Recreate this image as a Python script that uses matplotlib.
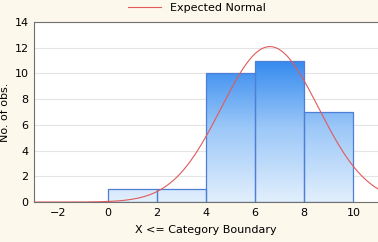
import matplotlib.pyplot as plt
import numpy as np
from matplotlib.colors import LinearSegmentedColormap

# histogram data
bin_left = [0, 2, 4, 6, 8]
counts = [1, 1, 10, 11, 7]
bin_width = 2
xticks = [-2, 0, 2, 4, 6, 8, 10]
yticks = [0, 2, 4, 6, 8, 10, 12, 14]

# expected normal parameters
n_obs = 30
mean = 6.6
sd = 1.98

fig = plt.figure(figsize=(3.78, 2.42), dpi=100)
fig.patch.set_facecolor("#fcf8ec")
ax = fig.add_axes([0.09, 0.165, 0.91, 0.744])
ax.set_facecolor("white")

cmap = LinearSegmentedColormap.from_list("bl", ["#e2effd", "#9cc8f8", "#2a84ee"])
grad = np.linspace(0, 1, 256).reshape(-1, 1)
bars = ax.bar(bin_left, counts, width=bin_width, align="edge",
              facecolor="none", edgecolor="#4f7fd4", linewidth=0.9, zorder=3)
for b in bars:
    im = ax.imshow(grad, cmap=cmap, origin="lower", aspect="auto",
                   extent=[-3, 11, 0, 11.5], zorder=2)
    im.set_clip_path(b)
ax.set_xlim(-3, 11)
ax.set_ylim(0, 14)

xs = np.linspace(-3, 11, 400)
ys = n_obs * bin_width / (sd * np.sqrt(2 * np.pi)) * np.exp(-0.5 * ((xs - mean) / sd) ** 2)
ax.plot(xs, ys, color="#e05a5a", linewidth=0.8, zorder=4, label="Expected Normal")

ax.set_xticks(xticks)
ax.set_yticks(yticks)
ax.tick_params(labelsize=8, length=0, pad=4)
ax.grid(axis="y", color="#e4e4e4", linewidth=0.8, zorder=0)
ax.set_axisbelow(True)
for s in ax.spines.values():
    s.set_color("#707070")
    s.set_linewidth(0.8)
ax.spines["right"].set_visible(False)
ax.set_xlabel("X <= Category Boundary", fontsize=8, labelpad=5)
ax.set_ylabel("No. of obs.", fontsize=8, labelpad=3)

fig.legend(loc="upper center", bbox_to_anchor=(0.52, 1.03), frameon=False,
           fontsize=8, handlelength=3)

fig.savefig("out.png", dpi=100, facecolor=fig.get_facecolor())
